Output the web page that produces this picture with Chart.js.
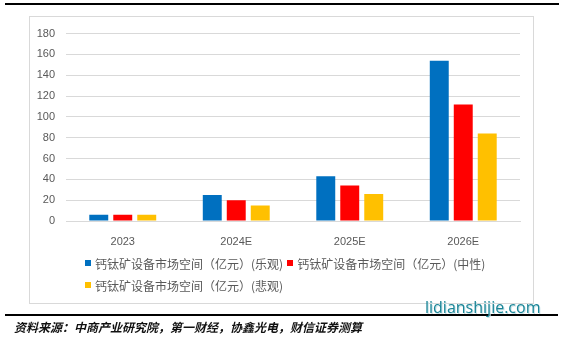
<!DOCTYPE html>
<html>
<head>
<meta charset="utf-8">
<script src="https://cdn.jsdelivr.net/npm/chart.js@4"></script>
<style>
  body { margin: 0; background: #fff; width: 564px; height: 339px; position: relative; overflow: hidden; font-family: "Noto Sans CJK SC", sans-serif; }
  #topLine { position: absolute; left: 5px; top: 3px; width: 554px; height: 2px; background: #000; }
  #box { position: absolute; left: 29px; top: 16px; width: 505px; height: 288px; border: 1px solid #d9d9d9; box-sizing: border-box; }
  #wrap { position: absolute; left: 29px; top: 16px; width: 508px; height: 240px; }
  #legend { position: absolute; left: 85px; top: 253px; width: 420px; font-size: 12px; color: #595959; }
  .row { display: flex; align-items: center; height: 20px; margin-bottom: 2px; }
  .item { display: flex; align-items: center; margin-right: 4px; }
  .sw { width: 6px; height: 6px; margin-right: 4px; }
  #bottomLine { position: absolute; left: 5px; top: 314px; width: 553px; height: 2px; background: #000; }
  #mark { position: absolute; left: 425px; top: 296px; font-family: "Open Sans", sans-serif; font-size: 16px; color: #1a8597; text-shadow: 1px 1px 0 #c9e3e8; }
  #source { position: absolute; left: 14px; top: 318px; font-size: 12px; font-style: italic; font-weight: bold; color: #111; }
</style>
</head>
<body>
<div id="topLine"></div>
<div id="box"></div>
<div id="wrap"><canvas id="chart"></canvas></div>
<div id="legend"></div>
<div id="bottomLine"></div>
<div id="mark">lidianshijie.com</div>
<div id="source">资料来源：中商产业研究院，第一财经，协鑫光电，财信证券测算</div>
<script>
const years = ['2023', '2024E', '2025E', '2026E'];
const optimistic = [6, 25, 43, 154];
const neutral = [6, 20, 34, 112];
const pessimistic = [6, 15, 26, 84];
const seriesNames = ['钙钛矿设备市场空间（亿元）(乐观)', '钙钛矿设备市场空间（亿元）(中性)', '钙钛矿设备市场空间（亿元）(悲观)'];
const seriesColors = ['#0070C0', '#FF0000', '#FFC000'];
const yTicks = [0, 20, 40, 60, 80, 100, 120, 140, 160, 180];

const seriesData = [optimistic, neutral, pessimistic];
const datasets = seriesData.map((d, i) => ({
    label: seriesNames[i],
    data: d,
    backgroundColor: seriesColors[i],
    barPercentage: 0.79,
    categoryPercentage: 0.634
}));

const tickFont = { family: 'Liberation Sans', size: 11 };

new Chart(document.getElementById('chart'), {
    type: 'bar',
    data: { labels: years, datasets: datasets },
    options: {
        responsive: true,
        maintainAspectRatio: false,
        animation: false,
        layout: { padding: { top: 14, right: 17, left: 0, bottom: 0 } },
        plugins: { legend: { display: false }, tooltip: { enabled: false } },
        scales: {
            x: {
                grid: { display: false },
                border: { color: '#d9d9d9', width: 1 },
                ticks: { color: '#595959', font: tickFont, padding: 6 },
                afterFit: s => { s.height = 35; }
            },
            y: {
                min: 0, max: 180,
                afterBuildTicks: s => { s.ticks = yTicks.map(v => ({ value: v })); },
                grid: { color: '#d9d9d9', drawTicks: false },
                border: { display: false },
                ticks: { color: '#595959', font: tickFont, padding: 11 },
                afterFit: s => { s.width = 37; }
            }
        }
    }
});

// legend, left aligned rows like the original
const legend = document.getElementById('legend');
const rows = [[0, 1], [2]];
rows.forEach(r => {
    const row = document.createElement('div');
    row.className = 'row';
    r.forEach(i => {
        const item = document.createElement('div');
        item.className = 'item';
        item.innerHTML = `<span class="sw" style="background:${seriesColors[i]}"></span><span>${seriesNames[i]}</span>`;
        row.appendChild(item);
    });
    legend.appendChild(row);
});
</script>
</body>
</html>
